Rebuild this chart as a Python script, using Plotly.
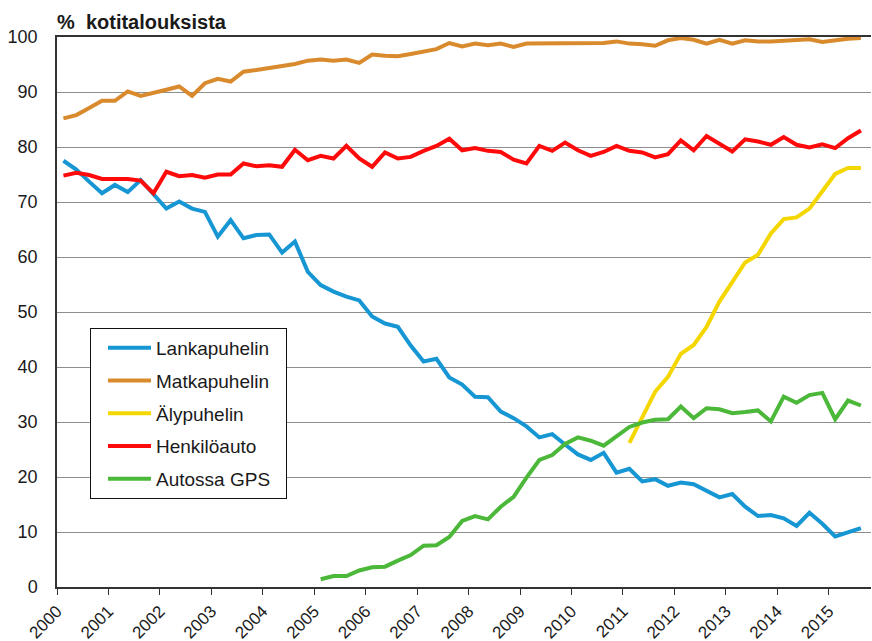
import plotly.graph_objects as go

# Quarterly periods 2000Q1 .. 2015Q3
years = [2000 + i // 4 for i in range(63)]
quarters = [i % 4 + 1 for i in range(63)]

lankapuhelin = [77.5, 75.9, 73.7, 71.6, 73.1, 71.8, 74.0, 71.5, 68.8, 70.1, 68.8, 68.2,
                63.7, 66.7, 63.4, 64.0, 64.1, 60.8, 62.8, 57.3, 54.9, 53.7, 52.8, 52.1,
                49.2, 47.9, 47.3, 43.9, 41.0, 41.5, 38.1, 36.8, 34.6, 34.5, 31.9, 30.7,
                29.2, 27.2, 27.8, 25.9, 24.1, 23.1, 24.4, 20.8, 21.5, 19.2, 19.6, 18.4,
                19.0, 18.7, 17.5, 16.3, 16.9, 14.6, 12.9, 13.1, 12.5, 11.1, 13.5, 11.5,
                9.2, 9.9, 10.7]

matkapuhelin = [85.2, 85.8, 87.1, 88.4, 88.4, 90.1, 89.3, 89.8, 90.4, 91.0, 89.3, 91.6,
                92.4, 91.9, 93.7, 94.0, 94.4, 94.7, 95.1, 95.7, 95.9, 95.7, 95.9, 95.3,
                96.8, 96.6, 96.5, 96.9, 97.4, 97.8, 98.9, 98.3, 98.8, 98.5, 98.8, 98.2,
                98.8, 98.8, 98.8, 98.9, 98.9, 98.9, 98.9, 99.2, 98.8, 98.7, 98.4, 99.4,
                99.8, 99.5, 98.8, 99.5, 98.8, 99.4, 99.2, 99.2, 99.3, 99.5, 99.6, 99.1,
                99.4, 99.7, 99.8]

alypuhelin = [None] * 44 + [26.2, 31.0, 35.5, 38.2, 42.4, 44.0, 47.3, 51.9, 55.5, 59.0,
                            60.4, 64.3, 66.9, 67.2, 68.8, 71.9, 75.1, 76.2, 76.2]

henkiloauto = [74.8, 75.3, 74.9, 74.2, 74.2, 74.2, 73.9, 71.6, 75.5, 74.7, 74.9, 74.4,
               75.0, 75.0, 77.0, 76.5, 76.7, 76.4, 79.5, 77.6, 78.4, 77.9, 80.2, 77.9,
               76.4, 79.0, 77.9, 78.2, 79.3, 80.2, 81.5, 79.4, 79.8, 79.3, 79.1, 77.7,
               77.0, 80.2, 79.3, 80.8, 79.4, 78.4, 79.1, 80.2, 79.3, 79.0, 78.1, 78.7,
               81.2, 79.4, 82.0, 80.7, 79.2, 81.4, 81.0, 80.4, 81.8, 80.4, 79.9, 80.5,
               79.8, 81.6, 83.0]

autossa_gps = [None] * 20 + [1.4, 2.0, 2.0, 3.0, 3.6, 3.7, 4.8, 5.8, 7.5, 7.6, 9.1, 12.0,
                             12.9, 12.3, 14.6, 16.4, 19.9, 23.1, 24.0, 26.0, 27.2, 26.6,
                             25.7, 27.3, 29.1, 29.9, 30.4, 30.5, 32.8, 30.7, 32.5, 32.3,
                             31.6, 31.8, 32.1, 30.1, 34.6, 33.5, 34.9, 35.3, 30.5, 33.9,
                             33.0]

tick_years = list(range(2000, 2016))
tick_labels = [str(y) for y in tick_years]

series = [
    ("Lankapuhelin", lankapuhelin, "#1796d4"),
    ("Matkapuhelin", matkapuhelin, "#d98a2c"),
    ("Älypuhelin", alypuhelin, "#f4d600"),
    ("Henkilöauto", henkiloauto, "#ff0a0a"),
    ("Autossa GPS", autossa_gps, "#4cb83a"),
]

# x at the middle of each quarter
x = [y + (q - 0.5) / 4 for y, q in zip(years, quarters)]

FONT = "Liberation Sans, Arial, sans-serif"

fig = go.Figure()
for name, vals, col in series:
    fig.add_trace(go.Scatter(
        x=x, y=vals, name=name + "\u00a0\u00a0", mode="lines",
        line=dict(color=col, width=4),
        legendgroup=name,
        connectgaps=False,
    ))

W, H = 872, 641
ml, mr, mt, mb = 57, 1, 37, 54
pw = W - ml - mr
ph = H - mt - mb

fig.update_layout(
    width=W, height=H,
    margin=dict(l=ml, r=mr, t=mt, b=mb, autoexpand=False),
    paper_bgcolor="white", plot_bgcolor="white",
    font=dict(family=FONT, size=18, color="#1a1a1a"),
    showlegend=True,
    legend=dict(
        x=(90 - ml) / pw, y=(H - mb - 328) / ph,
        xanchor="left", yanchor="top",
        bgcolor="white", bordercolor="#111", borderwidth=1,
        font=dict(family=FONT, size=19, color="#1a1a1a"),
        tracegroupgap=5, itemwidth=43, indentation=12,
    ),
    xaxis=dict(
        range=[2000, 2000 + pw / 51.45],
        tickmode="array", tickvals=tick_years, ticktext=tick_labels,
        tickangle=-45, ticks="outside", ticklen=6, tickcolor="#333",
        showline=True, linecolor="#333", linewidth=1.5, mirror=True,
        showgrid=False, zeroline=False,
        tickfont=dict(family=FONT, size=17, color="#1a1a1a"),
    ),
    yaxis=dict(
        range=[0, 100], tickmode="linear", tick0=0, dtick=10,
        showgrid=True, gridcolor="#8e8e8e", gridwidth=1,
        showline=True, linecolor="#333", linewidth=1.5,
        ticks="", zeroline=False, ticklabelstandoff=14,
        tickfont=dict(family=FONT, size=18, color="#1a1a1a"),
    ),
    annotations=[dict(
        text="<b>%\u00a0\u00a0kotitalouksista</b>",
        xref="paper", yref="paper",
        x=(55 - ml) / pw, y=(H - mb - 22) / ph,
        xanchor="left", yanchor="middle", showarrow=False,
        font=dict(family=FONT, size=20, color="#1a1a1a"),
    )],
)

fig.write_html(
    "out.html",
    config={"displayModeBar": False},
    post_script="document.body.style.margin='0';document.body.style.overflow='hidden';",
)
